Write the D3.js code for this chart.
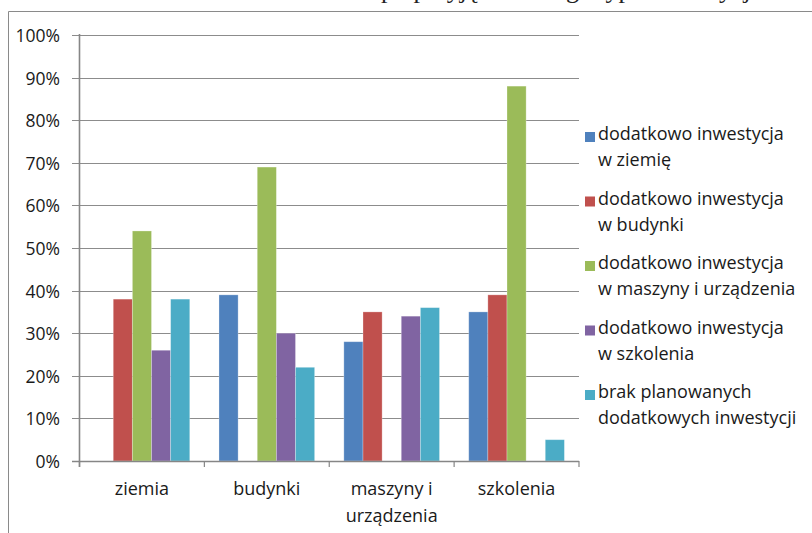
<!DOCTYPE html>
<html>
<head>
<meta charset="utf-8">
<script src="https://cdn.jsdelivr.net/npm/d3@7/dist/d3.min.js"></script>
<style>
  html, body { margin: 0; padding: 0; background: #fff; }
  svg { display: block; }
  text { font-family: "Open Sans", "Noto Sans", sans-serif; fill: #1a1a1a; }
</style>
</head>
<body>
<svg id="chart" width="812" height="533"></svg>
<script>
const categories = ["ziemia", "budynki", "maszyny i|urządzenia", "szkolenia"];
const seriesNames = [
  "dodatkowo inwestycja|w ziemię",
  "dodatkowo inwestycja|w budynki",
  "dodatkowo inwestycja|w maszyny i urządzenia",
  "dodatkowo inwestycja|w szkolenia",
  "brak planowanych|dodatkowych inwestycji"
];
const seriesColors = ["#4F81BD", "#C0504D", "#9BBB59", "#8064A2", "#4BACC6"];
// values per series, one per category (fractions)
const ziemiaSeries   = [0.00, 0.39, 0.28, 0.35];
const budynkiSeries  = [0.38, 0.00, 0.35, 0.39];
const maszynySeries  = [0.54, 0.69, 0.00, 0.88];
const szkoleniaSeries= [0.26, 0.30, 0.34, 0.00];
const brakSeries     = [0.38, 0.22, 0.36, 0.05];
const seriesValues = [ziemiaSeries, budynkiSeries, maszynySeries, szkoleniaSeries, brakSeries];
const yTicks = [0, 0.1, 0.2, 0.3, 0.4, 0.5, 0.6, 0.7, 0.8, 0.9, 1.0];
const topCaption = "po przyjęciu danego typu inwestycji";

(function () {
const svg = d3.select("#chart");

// cut-off caption from the page above (only descenders show, as in the reference)
svg.append("text").attr("x", 758).attr("y", -1.8).attr("text-anchor", "end")
  .style("font-family", "'Liberation Serif', serif").style("font-size", "26px").style("fill", "#222")
  .text(topCaption);

// frame
svg.append("line").attr("x1", 8.5).attr("x2", 8.5).attr("y1", 11.5).attr("y2", 533).attr("stroke", "#8a8a8a").attr("stroke-width", 1);
svg.append("line").attr("x1", 8.5).attr("x2", 812).attr("y1", 11.5).attr("y2", 11.5).attr("stroke", "#8a8a8a").attr("stroke-width", 1);

const pLeft = 79.5, pRight = 579, pTop = 35, pBottom = 461;
const y = d3.scaleLinear().domain([0, 1]).range([pBottom, pTop]);
const x0 = d3.scaleBand().domain(categories).range([pLeft, pRight]).padding(0);
const bw = x0.bandwidth();
const x1 = d3.scaleBand().domain(d3.range(seriesNames.length)).range([bw * 0.117, bw * 0.883]).padding(0);

// gridlines + y ticks
const g = svg.append("g");
yTicks.forEach(t => {
  const yy = Math.round(y(t)) + 0.5;
  g.append("line").attr("x1", 72).attr("x2", pRight).attr("y1", yy).attr("y2", yy)
    .attr("stroke", "#8c8c8c").attr("stroke-width", 1.2);
  g.append("text").attr("x", 60).attr("y", yy + 6.5).attr("text-anchor", "end")
    .style("font-size", "17.5px").text(d3.format(".0%")(t));
});

// bars
categories.forEach((c, ci) => {
  seriesValues.forEach((vals, si) => {
    const v = vals[ci];
    if (v <= 0) return;
    svg.append("rect")
      .attr("x", x0(c) + x1(si))
      .attr("y", y(v))
      .attr("width", x1.bandwidth())
      .attr("height", y(0) - y(v))
      .attr("fill", seriesColors[si])
      .attr("stroke", "rgba(255,255,255,0.35)")
      .attr("stroke-width", 0.8);
  });
});

// axes lines
svg.append("line").attr("x1", pLeft).attr("x2", pLeft).attr("y1", pTop - 1).attr("y2", pBottom + 6)
  .attr("stroke", "#868686").attr("stroke-width", 1.6);
svg.append("line").attr("x1", 72).attr("x2", pRight).attr("y1", pBottom + 0.5).attr("y2", pBottom + 0.5)
  .attr("stroke", "#868686").attr("stroke-width", 1.6);
const bounds = categories.map(c => x0(c)).concat([pRight]);
bounds.forEach(bx => {
  svg.append("line").attr("x1", bx).attr("x2", bx).attr("y1", pBottom).attr("y2", pBottom + 6)
    .attr("stroke", "#868686").attr("stroke-width", 1.2);
});

// category labels
categories.forEach(c => {
  const lines = c.split("|");
  const t = svg.append("text").attr("x", x0(c) + bw / 2).attr("y", 495).attr("text-anchor", "middle")
    .style("font-size", "18px");
  lines.forEach((l, i) => {
    t.append("tspan").attr("x", x0(c) + bw / 2).attr("dy", i === 0 ? 0 : 26.5).text(l);
  });
});

// legend
seriesNames.forEach((name, i) => {
  const by = 140 + i * 64.5;
  svg.append("rect").attr("x", 585).attr("y", by - 8).attr("width", 10).attr("height", 10)
    .attr("fill", seriesColors[i]);
  const t = svg.append("text").attr("x", 598).attr("y", by).style("font-size", "18px");
  name.split("|").forEach((l, li) => {
    t.append("tspan").attr("x", 598).attr("dy", li === 0 ? 0 : 26).text(l);
  });
});
})();
</script>
</body>
</html>
